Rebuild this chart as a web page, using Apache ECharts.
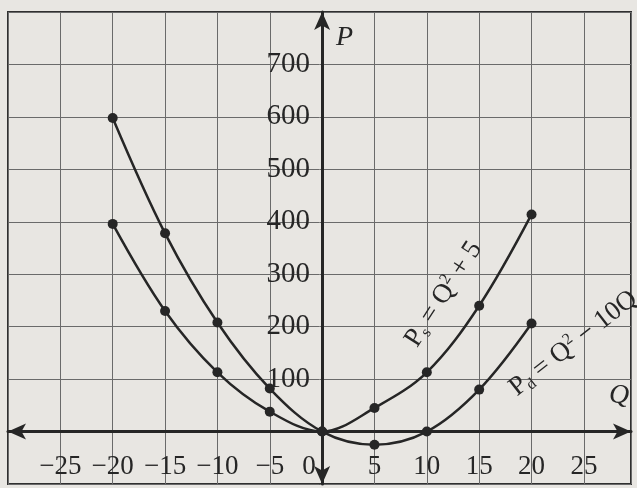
<!DOCTYPE html>
<html>
<head>
<meta charset="utf-8">
<script src="https://cdn.jsdelivr.net/npm/echarts@6/dist/echarts.min.js"></script>
<style>
  html, body { margin: 0; padding: 0; background: #e8e6e2; }
  #main { width: 637px; height: 488px; }
</style>
</head>
<body>
<div id="main"></div>
<script>
const qValues = [-20, -15, -10, -5, 0, 5, 10, 15, 20];
const supplyP = [396, 230, 113, 38, 0, 45, 113, 240, 414];
const demandP = [598, 378, 208, 82, 0, -25, 0, 80, 206];
const yLabels = [100, 200, 300, 400, 500, 600, 700];

const ink = "#262626";
const serif = "Liberation Serif";

// plot frame
const W = 637, H = 488;
const gLeft = 8, gRight = 6, gTop = 12, gBottom = 4;
const xMin = -30, xMax = 29.5, yMin = -100, yMax = 800;
// distance from frame to the zero lines, so the axes cross at the origin
const yAxisShift = (0 - xMin) / (xMax - xMin) * (W - gLeft - gRight);
const xAxisShift = (0 - yMin) / (yMax - yMin) * (H - gTop - gBottom);

function pairs(ys) {
  return qValues.map((q, i) => [q, ys[i]]);
}

function curveLabel(coord, angle, text) {
  return {
    symbol: "circle",
    symbolSize: 2,
    itemStyle: { color: "transparent" },
    label: { show: true },
    data: [
      {
        coord: coord,
        label: {
          show: true,
          position: "inside",
          rotate: angle,
          formatter: text,
          rich: {
            p: { fontFamily: serif, fontSize: 27, color: ink },
            sub: { fontFamily: serif, fontSize: 16, color: ink, padding: [13, 0, 0, 0] },
            sup: { fontFamily: serif, fontSize: 16, color: ink, padding: [0, 0, 13, 0] },
          },
        },
      },
    ],
  };
}

const chartDom = document.getElementById("main");
const myChart = echarts.init(chartDom);

const option = {
  backgroundColor: "#e8e6e2",
  animation: false,
  grid: {
    left: gLeft,
    right: gRight,
    top: gTop,
    bottom: gBottom,
    outerBoundsMode: "none",
    containLabel: false,
    show: true,
    borderColor: "#303030",
    borderWidth: 2,
  },
  xAxis: {
    type: "value",
    min: xMin,
    max: xMax,
    interval: 5,
    offset: -xAxisShift,
    name: "Q",
    nameLocation: "end",
    nameGap: -22,
    nameTextStyle: {
      fontFamily: serif,
      fontStyle: "italic",
      fontSize: 28,
      color: ink,
      verticalAlign: "bottom",
      padding: [0, 0, 22, 0],
    },
    axisLine: {
      onZero: false,
      symbol: ["arrow", "arrow"],
      symbolSize: [12, 18],
      lineStyle: { color: ink, width: 3 },
    },
    axisTick: { show: false },
    axisLabel: {
      margin: 22,
      fontFamily: serif,
      fontSize: 27,
      color: ink,
      formatter: function (v) {
        if (v <= -30 || v > 25 || v % 5 !== 0) return "";
        if (v === 0) return "{z|0}";
        return v < 0 ? "\u2212" + Math.abs(v) : String(v);
      },
      rich: {
        z: { fontFamily: serif, fontSize: 27, color: ink, padding: [0, 26, 8, 0] },
      },
    },
    splitLine: { show: true, lineStyle: { color: "#6a6a6a", width: 1 } },
  },
  yAxis: {
    type: "value",
    min: yMin,
    max: yMax,
    interval: 100,
    offset: -yAxisShift,
    name: "P",
    nameLocation: "end",
    nameGap: -40,
    nameTextStyle: {
      fontFamily: serif,
      fontStyle: "italic",
      fontSize: 28,
      color: ink,
      align: "left",
      padding: [0, 0, 0, 14],
    },
    axisLine: {
      onZero: false,
      symbol: ["arrow", "arrow"],
      symbolSize: [12, 18],
      lineStyle: { color: ink, width: 3 },
    },
    axisTick: { show: false },
    axisLabel: {
      margin: 12,
      fontFamily: serif,
      fontSize: 29,
      color: ink,
      formatter: function (v) {
        return yLabels.indexOf(v) >= 0 ? String(v) : "";
      },
    },
    splitLine: { show: true, lineStyle: { color: "#6a6a6a", width: 1 } },
  },
  series: [
    {
      name: "supply",
      type: "line",
      data: pairs(supplyP),
      smooth: 0.35,
      symbol: "circle",
      symbolSize: 10,
      itemStyle: { color: ink },
      lineStyle: { color: ink, width: 2.5 },
      markPoint: curveLabel([11.6, 262], 57, "{p|P}{sub|s}{p| = Q}{sup|2}{p| + 5}"),
    },
    {
      name: "demand",
      type: "line",
      data: pairs(demandP),
      smooth: 0.35,
      symbol: "circle",
      symbolSize: 10,
      itemStyle: { color: ink },
      lineStyle: { color: ink, width: 2.5 },
      markPoint: curveLabel([24, 168], 38, "{p|P}{sub|d}{p| = Q}{sup|2}{p| \u2212 10Q}"),
    },
  ],
};

myChart.setOption(option);
</script>
</body>
</html>
